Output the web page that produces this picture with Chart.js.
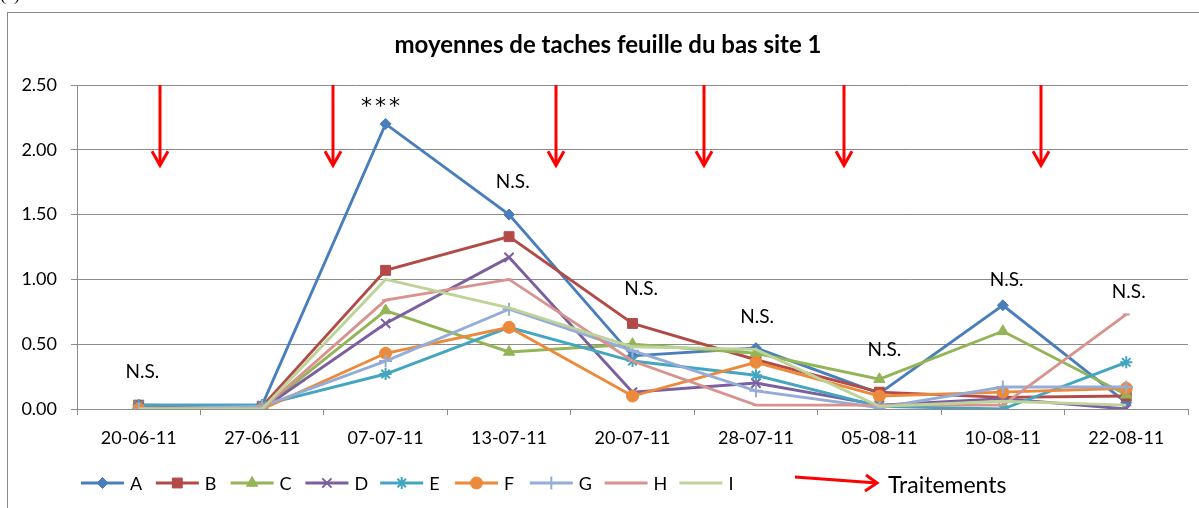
<!DOCTYPE html>
<html>
<head>
<meta charset="utf-8">
<title>moyennes de taches feuille du bas site 1</title>
<script src="https://cdn.jsdelivr.net/npm/chart.js@4.4.1/dist/chart.umd.min.js"></script>
<style>
  html, body { margin:0; padding:0; background:#fff; }
  #contenedor { width:1199px; height:508px; }
</style>
</head>
<body>
<div id="contenedor"><canvas id="miGraficaTaches" width="1199" height="508"></canvas></div>
<script>

// fechas de lectura
var fechas = ['20-06-11','27-06-11','07-07-11','13-07-11','20-07-11','28-07-11','05-08-11','10-08-11','22-08-11'];

// moyennes par modalité
var serieA = [0.03, 0.03, 2.20, 1.50, 0.41, 0.47, 0.12, 0.80, 0.05];
var serieB = [0.03, 0.02, 1.07, 1.33, 0.66, 0.38, 0.13, 0.09, 0.10];
var serieC = [0.00, 0.00, 0.76, 0.44, 0.50, 0.43, 0.23, 0.60, 0.11];
var serieD = [0.00, 0.00, 0.66, 1.17, 0.13, 0.20, 0.03, 0.08, 0.00];
var serieE = [0.03, 0.03, 0.27, 0.63, 0.37, 0.26, 0.02, 0.00, 0.36];
var serieF = [0.00, 0.00, 0.43, 0.63, 0.10, 0.36, 0.10, 0.13, 0.16];
var serieG = [0.00, 0.02, 0.37, 0.77, 0.45, 0.14, 0.01, 0.17, 0.17];
var serieH = [0.00, 0.00, 0.84, 1.00, 0.37, 0.03, 0.03, 0.03, 0.73];
var serieI = [0.00, 0.00, 1.00, 0.78, 0.48, 0.46, 0.02, 0.06, 0.03];

var nombres = ['A','B','C','D','E','F','G','H','I'];
var series = [serieA, serieB, serieC, serieD, serieE, serieF, serieG, serieH, serieI];
var colores = ['#4a7ebb','#b24b48','#93b557','#7b5f9e','#43a5c0','#ec8a3c','#94acd6','#d9938f','#bdd39a'];
var marcadores = ['rectRot','rect','triangle','crossRot','star','circle','cross','line',false];
var radios = [5.5, 7, 6.5, 6.5, 6, 6, 6.5, 3.5, 0];

// ticks eje y
var ticksY = [0, 0.5, 1, 1.5, 2, 2.5];

// textos de significación (posición en unidades de categoría y valor)
var signifTexto = ['N.S.', '***', 'N.S.', 'N.S.', 'N.S.', 'N.S.', 'N.S.', 'N.S.'];
var signifX = [0.03, 1.97, 3.03, 4.07, 5.01, 6.04, 7.03, 8.02];
var signifY = [0.29, 2.33, 1.75, 0.93, 0.71, 0.46, 1.00, 0.90];

// traitements (flèches rouges)
var traitements = [0.17, 1.57, 3.38, 4.58, 5.71, 7.31];
var flechaDesde = 2.5;
var flechaHasta = 1.88;

var fuente = 'Lato, "Open Sans", sans-serif';
var gris = '#8c8c8c';

var datasets = [];
for (var i = 0; i < series.length; i++) {
  datasets.push({
    label: nombres[i],
    data: series[i],
    borderColor: colores[i],
    backgroundColor: colores[i],
    borderWidth: 2.9,
    pointStyle: marcadores[i],
    pointRadius: radios[i],
    pointHoverRadius: radios[i],
    pointBorderWidth: (i == 3 || i == 4 || i == 6 || i == 7) ? 2 : 1,
    tension: 0,
    order: 9 - i
  });
}

var extras = {
  id: 'extras',
  beforeDraw: function(chart) {
    var ctx = chart.ctx;
    ctx.save();
    ctx.fillStyle = '#fff';
    ctx.fillRect(0, 0, chart.width, chart.height);
    ctx.strokeStyle = '#888';
    ctx.lineWidth = 1;
    ctx.strokeRect(7.5, 12.5, 1400, 700);
    ctx.fillStyle = '#000';
    ctx.font = '18px "Liberation Serif"';
    ctx.textBaseline = 'alphabetic';
    ctx.textAlign = 'left';
    ctx.fillText('(c)', 0, 0);
    ctx.restore();
  },
  afterDatasetsDraw: function(chart) {
    var ctx = chart.ctx;
    var x = chart.scales.x, y = chart.scales.y;
    ctx.save();
    // flèches
    ctx.strokeStyle = '#ff0000';
    ctx.lineWidth = 3;
    ctx.lineCap = 'butt';
    var arriba = y.getPixelForValue(flechaDesde);
    var punta = y.getPixelForValue(flechaHasta);
    traitements.forEach(function(t) {
      var px = Math.round(x.getPixelForValue(t));
      ctx.beginPath();
      ctx.moveTo(px, arriba);
      ctx.lineTo(px, punta);
      ctx.stroke();
      ctx.beginPath();
      ctx.moveTo(px - 8, punta - 14);
      ctx.lineTo(px, punta);
      ctx.lineTo(px + 8, punta - 14);
      ctx.stroke();
    });
    // N.S. / ***
    ctx.fillStyle = '#000';
    ctx.textAlign = 'center';
    ctx.textBaseline = 'middle';
    for (var k = 0; k < signifTexto.length; k++) {
      if (signifTexto[k] == '***') {
        ctx.font = '22px "DejaVu Sans"';
        ctx.letterSpacing = '3px';
      } else {
        ctx.font = '19px ' + fuente;
        ctx.letterSpacing = '0px';
      }
      ctx.fillText(signifTexto[k], x.getPixelForValue(signifX[k]), y.getPixelForValue(signifY[k]));
    }
    ctx.letterSpacing = '0px';
    ctx.restore();
  },
  afterDraw: function(chart) {
    var ctx = chart.ctx;
    ctx.save();
    // titre
    ctx.fillStyle = '#000';
    ctx.font = 'bold 24px ' + fuente;
    ctx.textAlign = 'center';
    ctx.textBaseline = 'middle';
    ctx.fillText('moyennes de taches feuille du bas site 1', 608, 45);

    // légende
    var x0 = 81, paso = 74.8, largo = 43, yl = 483;
    ctx.font = '18px ' + fuente;
    ctx.textAlign = 'left';
    for (var i = 0; i < datasets.length; i++) {
      var d = datasets[i];
      var xs = x0 + i * paso;
      ctx.strokeStyle = d.borderColor;
      ctx.fillStyle = d.backgroundColor;
      ctx.lineWidth = 2.9;
      ctx.beginPath();
      ctx.moveTo(xs, yl);
      ctx.lineTo(xs + largo, yl);
      ctx.stroke();
      if (d.pointStyle) {
        ctx.lineWidth = d.pointBorderWidth;
        Chart.helpers.drawPoint(ctx, {
          pointStyle: d.pointStyle,
          radius: d.pointRadius,
          rotation: 0,
          borderWidth: d.pointBorderWidth
        }, xs + largo / 2, yl);
      }
      ctx.fillStyle = '#000';
      ctx.fillText(d.label, xs + largo + 6, yl + 1);
    }

    // flèche Traitements
    ctx.strokeStyle = '#ff0000';
    ctx.lineWidth = 3;
    ctx.beginPath();
    ctx.moveTo(795, 477);
    ctx.lineTo(877, 483);
    ctx.stroke();
    ctx.beginPath();
    ctx.moveTo(866, 475);
    ctx.lineTo(877, 483);
    ctx.lineTo(865, 491);
    ctx.stroke();
    ctx.fillStyle = '#000';
    ctx.font = '23px ' + fuente;
    ctx.fillText('Traitements', 888, 486);
    ctx.restore();
  }
};

var miCanvas = document.getElementById('miGraficaTaches').getContext('2d');

var grafica = new Chart(miCanvas, {
  type: 'line',
  data: {
    labels: fechas,
    datasets: datasets
  },
  options: {
    responsive: false,
    animation: false,
    devicePixelRatio: 1,
    layout: { padding: { left: 0, top: 85, right: 11, bottom: 0 } },
    plugins: {
      legend: { display: false },
      title: { display: false },
      tooltip: { enabled: false }
    },
    scales: {
      x: {
        offset: true,
        grid: { offset: true, drawOnChartArea: false, drawTicks: true, tickLength: 6, color: gris, lineWidth: 1 },
        border: { display: true, color: gris, width: 1 },
        ticks: { color: '#000', font: { family: fuente, size: 18 }, padding: 12, maxRotation: 0, autoSkip: false },
        afterFit: function(s) { s.height = 99; }
      },
      y: {
        min: 0,
        max: 2.5,
        afterBuildTicks: function(s) { s.ticks = ticksY.map(function(v) { return { value: v }; }); },
        grid: { color: gris, lineWidth: 1, drawTicks: true, tickLength: 6 },
        border: { display: true, color: gris, width: 1 },
        ticks: {
          color: '#000',
          font: { family: fuente, size: 18 },
          padding: 14,
          callback: function(v) { return Number(v).toFixed(2); }
        },
        afterFit: function(s) { s.width = 77; }
      }
    }
  },
  plugins: [extras]
});

</script>
</body>
</html>
